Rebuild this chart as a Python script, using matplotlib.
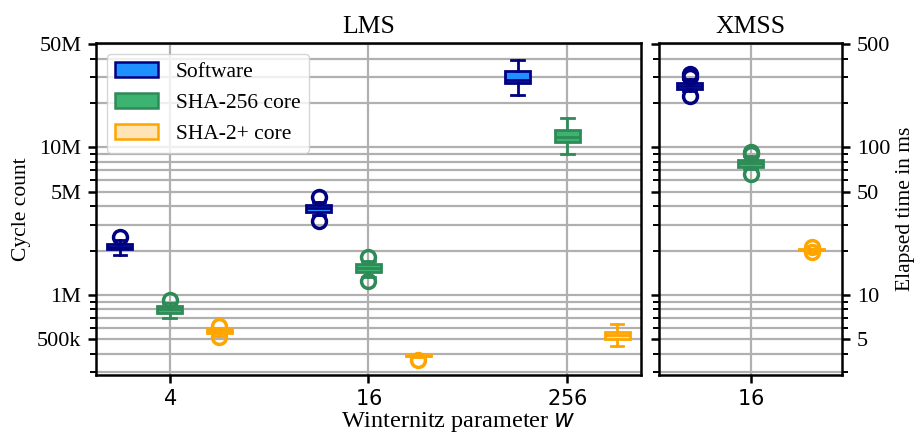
import numpy as np
import matplotlib
matplotlib.use("Agg")
import matplotlib.pyplot as plt
from matplotlib.patches import Patch
from matplotlib.ticker import FixedLocator, FixedFormatter, LogLocator, NullFormatter

plt.rcParams['font.family'] = 'serif'
plt.rcParams['font.serif'] = ['Liberation Serif', 'DejaVu Serif']
plt.rcParams['mathtext.fontset'] = 'dejavusans'

# ================== DATA (cycle counts) ==================
lms_w = ['$4$', '$16$', '$256$']
xmss_w = ['$16$']
impls = ['Software', 'SHA-256 core', 'SHA-2+ core']

# LMS, one entry per w: lower whisker, q1, median, q3, upper whisker, outliers
lms_sw_lo = [1.88e6, 3.50e6, 22.6e6]
lms_sw_q1 = [2.04e6, 3.66e6, 27.1e6]
lms_sw_med = [2.12e6, 3.86e6, 28.6e6]
lms_sw_q3 = [2.21e6, 4.06e6, 33.0e6]
lms_sw_hi = [2.36e6, 4.25e6, 39.4e6]
lms_sw_out = [[2.46e6], [4.63e6, 3.18e6], []]

lms_hw_lo = [0.695e6, 1.33e6, 8.97e6]
lms_hw_q1 = [0.759e6, 1.44e6, 10.9e6]
lms_hw_med = [0.80e6, 1.516e6, 11.7e6]
lms_hw_q3 = [0.842e6, 1.61e6, 13.2e6]
lms_hw_hi = [0.88e6, 1.70e6, 15.8e6]
lms_hw_out = [[0.925e6], [1.807e6, 1.238e6], []]

lms_p_lo = [0.53e6, 0.380e6, 0.452e6]
lms_p_q1 = [0.550e6, 0.383e6, 0.501e6]
lms_p_med = [0.570e6, 0.386e6, 0.536e6]
lms_p_q3 = [0.586e6, 0.389e6, 0.561e6]
lms_p_hi = [0.60e6, 0.392e6, 0.633e6]
lms_p_out = [[0.617e6, 0.517e6], [0.363e6], []]

# XMSS (w = 16), one entry per implementation
xmss_lo = [24.0e6, 7.15e6, 2.00e6]
xmss_q1 = [24.9e6, 7.39e6, 2.015e6]
xmss_med = [26.0e6, 7.80e6, 2.03e6]
xmss_q3 = [27.5e6, 8.20e6, 2.045e6]
xmss_hi = [29.0e6, 8.70e6, 2.06e6]
xmss_out = [[31.4e6, 30.2e6, 22.2e6], [9.33e6, 9.0e6, 6.59e6], [2.10e6, 1.95e6]]

y_major = [5e5, 1e6, 5e6, 1e7, 5e7]
y_left_labels = ['500k', '1M', '5M', '10M', '50M']
y_right_labels = ['5', '10', '50', '100', '500']

face = ['#1e90ff', '#3cb371', '#ffe4b5']
edge = ['#000080', '#2e8b57', '#ffa500']
offsets = [-0.25, 0.0, 0.25]


def make_stats(lo, q1, med, q3, hi, out):
    return [dict(whislo=a, q1=b, med=c, q3=d, whishi=e, fliers=f)
            for a, b, c, d, e, f in zip(lo, q1, med, q3, hi, out)]


def draw(ax, stats, positions, width, fc, ec):
    lw = 2.0
    ax.bxp(stats, positions=positions, widths=width, patch_artist=True,
           showfliers=True, manage_ticks=False,
           boxprops=dict(facecolor=fc, edgecolor=ec, linewidth=lw),
           medianprops=dict(color=ec, linewidth=lw),
           whiskerprops=dict(color=ec, linewidth=lw),
           capprops=dict(color=ec, linewidth=lw),
           flierprops=dict(marker='o', markerfacecolor='none', markeredgecolor=ec,
                           markersize=10, markeredgewidth=2.5))


def style_y(ax):
    ax.set_yscale('log')
    ax.set_ylim(2.87e5, 5.1e7)
    ax.yaxis.set_major_locator(FixedLocator(y_major))
    ax.yaxis.set_minor_locator(LogLocator(base=10, subs=(2, 3, 4, 6, 7, 8, 9)))
    ax.yaxis.set_minor_formatter(NullFormatter())
    ax.grid(True, which='both', axis='y', color='#b0b0b0', linewidth=1.6)
    ax.grid(True, which='major', axis='x', color='#b0b0b0', linewidth=1.6)
    ax.set_axisbelow(True)
    for s in ax.spines.values():
        s.set_linewidth(1.8)
    ax.tick_params(axis='both', which='major', length=5.5, width=1.8, labelsize=16, pad=5)
    ax.tick_params(axis='y', which='minor', length=4, width=1.4)
    ax.tick_params(axis='x', labelsize=15)


fig = plt.figure(figsize=(9.17, 4.34), dpi=100)
ax1 = fig.add_axes([0.1047, 0.136, 0.5943, 0.765])
ax2 = fig.add_axes([0.7187, 0.136, 0.1996, 0.765])

# LMS panel
lms = [
    make_stats(lms_sw_lo, lms_sw_q1, lms_sw_med, lms_sw_q3, lms_sw_hi, lms_sw_out),
    make_stats(lms_hw_lo, lms_hw_q1, lms_hw_med, lms_hw_q3, lms_hw_hi, lms_hw_out),
    make_stats(lms_p_lo, lms_p_q1, lms_p_med, lms_p_q3, lms_p_hi, lms_p_out),
]
base = np.arange(len(lms_w))
for i in range(3):
    draw(ax1, lms[i], base + offsets[i], 0.125, face[i], edge[i])

style_y(ax1)
ax1.set_xlim(-0.37, 2.37)
ax1.set_xticks(base)
ax1.set_xticklabels(lms_w)
ax1.yaxis.set_major_formatter(FixedFormatter(y_left_labels))
ax1.tick_params(axis='y', which='both', left=True, right=False)
ax1.set_ylabel('Cycle count', fontsize=15.5)
ax1.set_title('LMS', fontsize=18.5, pad=7)

# XMSS panel
xmss = make_stats(xmss_lo, xmss_q1, xmss_med, xmss_q3, xmss_hi, xmss_out)
for i in range(3):
    draw(ax2, [xmss[i]], [offsets[i]], 0.102, face[i], edge[i])

style_y(ax2)
ax2.set_xlim(-0.375, 0.375)
ax2.set_xticks([0])
ax2.set_xticklabels(xmss_w)
ax2.yaxis.set_major_formatter(FixedFormatter(y_right_labels))
ax2.tick_params(axis='y', which='both', left=True, right=True,
                labelleft=False, labelright=True)
ax2.yaxis.set_label_position('right')
ax2.set_ylabel('Elapsed time in ms', fontsize=15.5)
ax2.set_title('XMSS', fontsize=18.5, pad=7)

handles = [Patch(facecolor=face[i], edgecolor=edge[i], linewidth=1.8, label=impls[i])
           for i in range(3)]
ax1.legend(handles=handles, loc='upper left', fontsize=15.5)

fig.text(0.5, 0.016, 'Winternitz parameter $w$', ha='center', va='baseline', fontsize=17.5)

fig.savefig('out.png', dpi=100)
